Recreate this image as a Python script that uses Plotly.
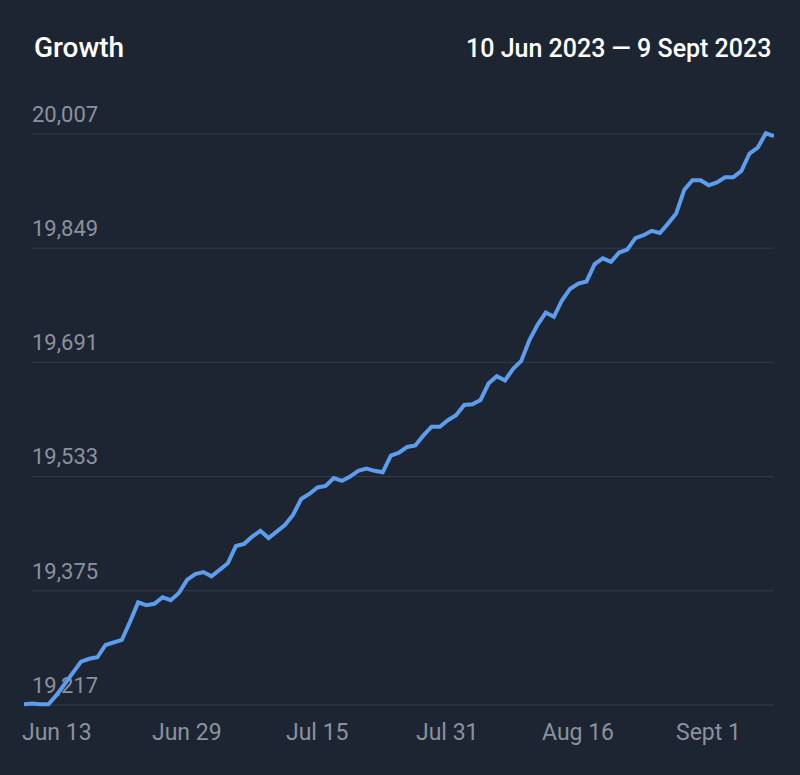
import datetime as dt
import plotly.graph_objects as go

# ---- data ----
start_date = dt.date(2023, 6, 9)
values = [
    19218, 19219, 19218, 19218, 19231, 19247, 19263, 19277, 19281, 19283,
    19300, 19303, 19307, 19332, 19359, 19355, 19357, 19366, 19362, 19372,
    19390, 19398, 19401, 19395, 19404, 19413, 19437, 19440, 19450, 19458,
    19448, 19457, 19466, 19480, 19502, 19509, 19518, 19520, 19531, 19527,
    19533, 19541, 19544, 19541, 19539, 19562, 19566, 19574, 19576, 19590,
    19602, 19602, 19611, 19618, 19632, 19633, 19639, 19662, 19672, 19666,
    19682, 19693, 19722, 19743, 19760, 19754, 19777, 19793, 19800, 19803,
    19827, 19835, 19830, 19843, 19847, 19863, 19867, 19873, 19870, 19883,
    19897, 19930, 19943, 19943, 19936, 19940, 19947, 19947, 19956, 19980,
    19988, 20008, 20004,
]
dates = [start_date + dt.timedelta(days=i) for i in range(len(values))]

y_tick_vals = [19217, 19375, 19533, 19691, 19849, 20007]
y_tick_text = ["19,217", "19,375", "19,533", "19,691", "19,849", "20,007"]
x_tick_vals = ["2023-06-13", "2023-06-29", "2023-07-15", "2023-07-31", "2023-08-16", "2023-09-01"]
x_tick_text = ["Jun 13", "Jun 29", "Jul 15", "Jul 31", "Aug 16", "Sept 1"]

title_text = "Growth"
range_text = "10 Jun 2023 \u2014 9 Sept 2023"

# ---- style ----
BG = "#1e2532"
GRID = "#343c49"
LINE = "#5c9ded"
TICK = "#8a929e"
FONT = "Roboto"

fig = go.Figure()
fig.add_trace(go.Scatter(
    x=dates, y=values, mode="lines",
    line=dict(color=LINE, width=4, shape="linear"),
    hoverinfo="skip",
))

for v in y_tick_vals:
    fig.add_shape(type="line", xref="paper", yref="y",
                  x0=8 / 750, x1=0.999, y0=v, y1=v,
                  line=dict(color=GRID, width=1), layer="below")

# x-axis tick labels placed on the x scale
annotations = [
    dict(text=t, xref="x", yref="paper", x=v, y=0,
         xanchor="center", yanchor="middle", yshift=-22, showarrow=False,
         font=dict(size=23, color=TICK, family=FONT))
    for v, t in zip(x_tick_vals, x_tick_text)
]
annotations += [
    dict(text=title_text, xref="paper", yref="paper",
         x=(32 - 24) / 750, y=1 + (100 - 48) / 610,
         xanchor="left", yanchor="middle", showarrow=False,
         font=dict(size=28, color="#ffffff", family=FONT, weight=500)),
    dict(text=range_text, xref="paper", yref="paper",
         x=(773 - 24) / 750, y=1 + (100 - 49) / 610,
         xanchor="right", yanchor="middle", showarrow=False,
         font=dict(size=25, color="#ffffff", family=FONT, weight=500)),
]

fig.update_layout(
    width=800, height=775,
    paper_bgcolor=BG, plot_bgcolor=BG,
    margin=dict(l=24, r=26, t=100, b=65),
    showlegend=False,
    font=dict(family=FONT, color=TICK),
    xaxis=dict(
        range=[dates[0], dates[-1]],
        showticklabels=False,
        showgrid=False, zeroline=False, showline=False, ticks="",
        fixedrange=True,
    ),
    yaxis=dict(
        range=[19210.08, 20054.04],
        tickvals=y_tick_vals, ticktext=y_tick_text,
        showgrid=False, zeroline=False, showline=False, ticks="",
        ticklabelposition="inside",
        ticklabelstandoff=5,
        ticklabelshift=-20,
        layer="below traces",
        tickfont=dict(size=22, color=TICK, family=FONT),
        fixedrange=True,
    ),
    annotations=annotations,
)

fig.write_html(
    "out.html",
    config={"displayModeBar": False},
    post_script="document.body.style.margin='0';document.body.style.background='#1e2532';",
)
